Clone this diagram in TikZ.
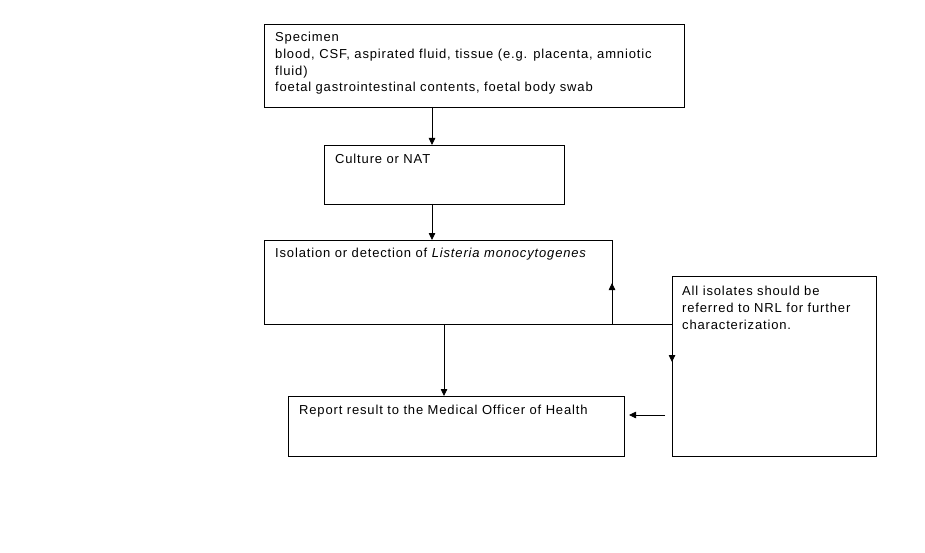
\documentclass[tikz,border=0pt]{standalone}
\usepackage{fontspec}
\setmainfont[LetterSpace=6.5]{Liberation Sans}
\usetikzlibrary{arrows.meta,calc}
\begin{document}
\begin{tikzpicture}[x=1pt,y=-1pt,
  box/.style={draw=black,line width=0.8pt,anchor=north west,inner sep=0pt,outer sep=0pt},
  txt/.style={anchor=base west,inner sep=0pt,align=left,font=\fontsize{13}{16.8}\selectfont},
  arr/.style={line width=0.8pt,-{Triangle[length=7pt,width=6.5pt]}},
  ln/.style={line width=0.8pt}]
\useasboundingbox (0,0) rectangle (925,553);
\node[box,minimum width=420pt,minimum height=83pt] (spec) at (264,24) {};
\node[box,minimum width=240pt,minimum height=59pt] (cult) at (324,145) {};
\node[box,minimum width=348pt,minimum height=84pt] (iso) at (264,240) {};
\node[box,minimum width=336pt,minimum height=60pt] (rep) at (288,396) {};
\node[box,minimum width=204pt,minimum height=180pt] (nrl) at (672,276) {};
\node[txt] (t1) at (275,92) {Specimen\\blood, CSF, aspirated fluid, tissue (e.g. placenta, amniotic\\fluid)\\foetal gastrointestinal contents, foetal body swab};
\node[txt] (t2) at (335,164) {Culture or NAT};
\node[txt] (t3) at (275,257) {Isolation or detection of \textit{Listeria monocytogenes}};
\node[txt] (t4) at (299,414) {Report result to the Medical Officer of Health};
\node[txt] (t5) at (682,329) {All isolates should be\\referred to NRL for further\\characterization.};
\coordinate (j) at (nrl.west |- iso.south);
\draw[arr] (432,0 |- spec.south) -- (432,0 |- cult.north);
\draw[arr] (432,0 |- cult.south) -- (432,0 |- iso.north);
\draw[arr] (444,0 |- iso.south) -- (444,0 |- rep.north);
\draw[arr] (j) -- (iso.south east) -- ($(iso.south east)+(0,-41)$);
\draw[arr] (j) -- ++(0,38);
\coordinate (la) at ($(nrl.west |- 0,415)+(-7,0)$);
\draw[arr] (la) -- ($(rep.east |- la)+(5,0)$);
\end{tikzpicture}
\end{document}
